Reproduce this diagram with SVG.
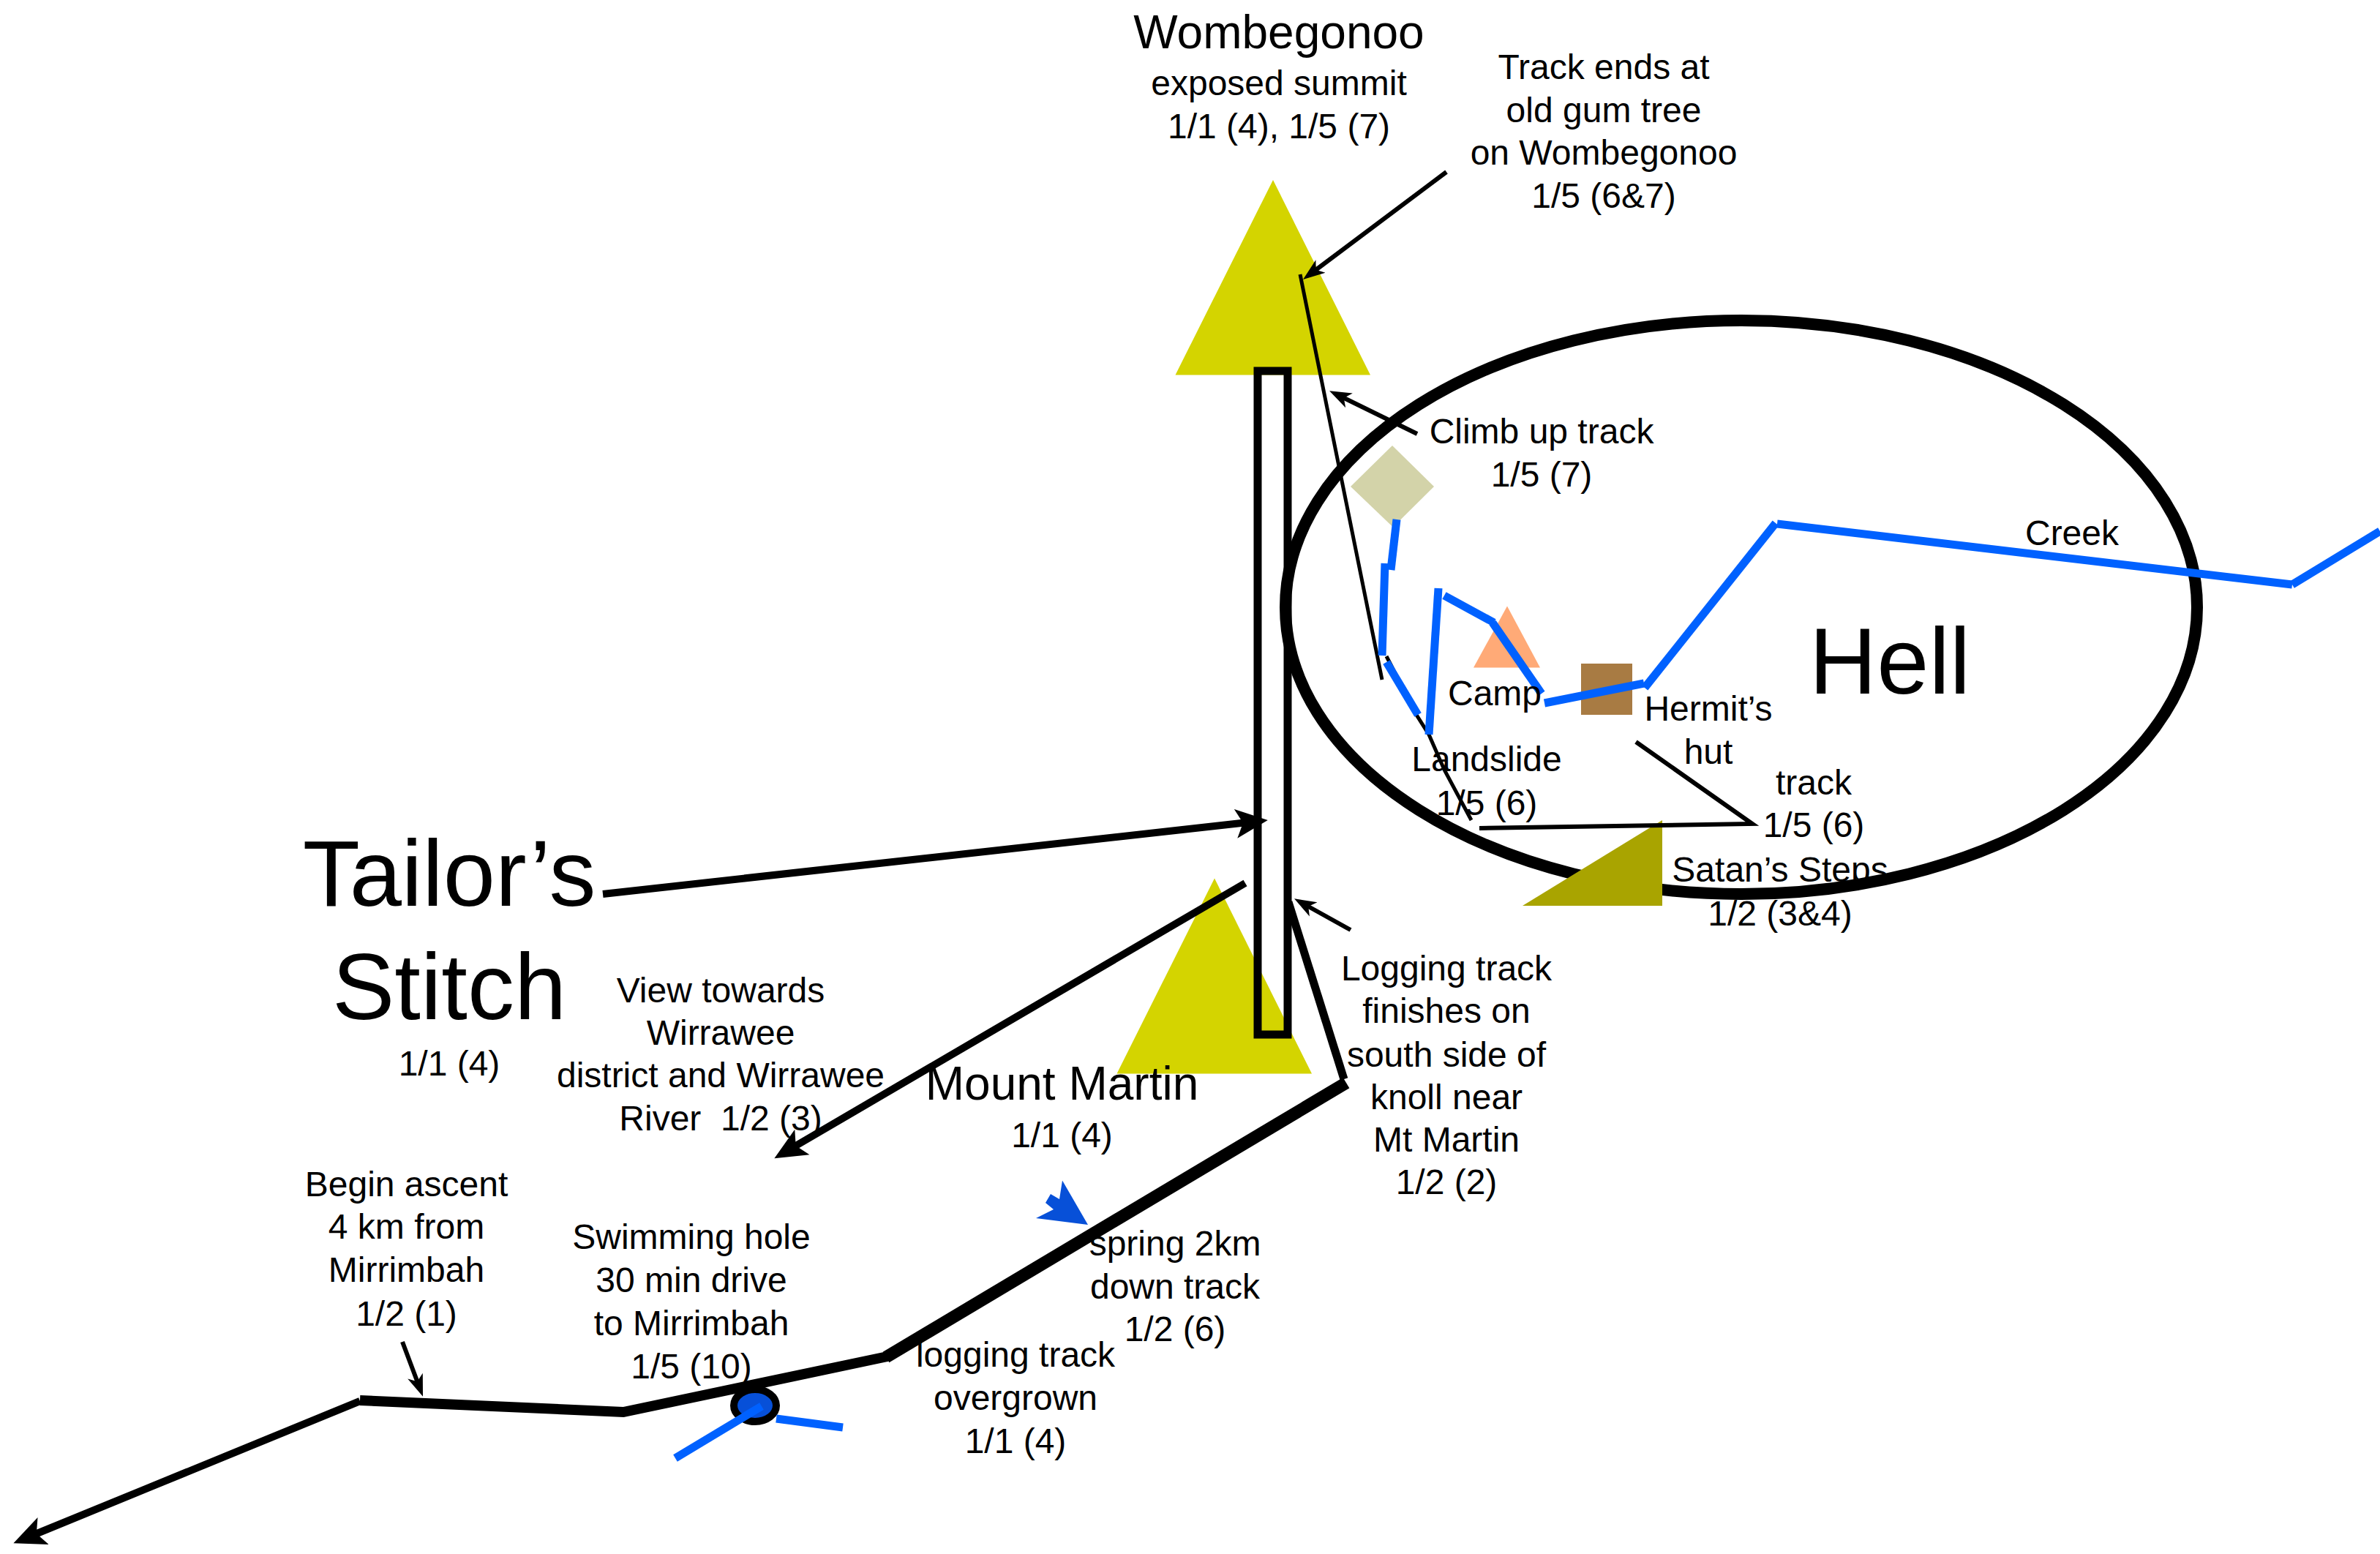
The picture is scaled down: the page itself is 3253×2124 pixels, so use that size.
<svg xmlns="http://www.w3.org/2000/svg" width="3253" height="2124" viewBox="0 0 3253 2124">
<style>
text{font-family:"Liberation Sans",Arial,sans-serif;font-size:48px;fill:#000;text-anchor:middle;white-space:pre}
.m{font-size:64px}
.l{font-size:128px}
.blk{fill:none;stroke:#000;stroke-linecap:butt;stroke-linejoin:miter}
.blu{fill:none;stroke:#0061ff;stroke-width:11}
.th{stroke-width:5}
.md{stroke-width:6}
</style>
<defs>
<marker id="s" markerUnits="userSpaceOnUse" markerWidth="32" markerHeight="24" refX="10" refY="12" orient="auto" viewBox="0 0 32 24"><path d="M0,1 L30,12 L0,23 L8,12 Z" fill="#000"/></marker>
<marker id="b" markerUnits="userSpaceOnUse" markerWidth="46" markerHeight="42" refX="12" refY="21" orient="auto" viewBox="0 0 46 42"><path d="M0,1 L44,21 L0,41 L10,21 Z" fill="#000"/></marker>
</defs>
<rect width="3253" height="2124" fill="#fff"/>
<g id="wombegonoo"><polygon points="1740,246 1873,512.5 1606.5,512.5" fill="#d4d400"/>
<text x="1748" y="66" class="m">Wombegonoo</text><text x="1748" y="130">exposed summit</text><text x="1748" y="189">1/1 (4), 1/5 (7)</text></g>
<g id="mount-martin"><polygon points="1660,1200.6 1793,1467.6 1526.5,1467.6" fill="#d4d400"/>
<text x="1451.5" y="1503" class="m">Mount Martin</text><text x="1451.5" y="1568">1/1 (4)</text></g>
<g id="hell"><ellipse cx="2380" cy="830" rx="623" ry="392" fill="none" stroke="#000" stroke-width="16"/><text x="2583" y="948" class="l">Hell</text></g>
<g id="tailors-stitch"><rect x="1719" y="507" width="41" height="907" fill="none" stroke="#000" stroke-width="11"/>
<text x="614" y="1238" class="l">Tailor’s</text><text x="614" y="1393" class="l">Stitch</text><text x="614" y="1470">1/1 (4)</text></g>
<g id="climb-diamond"><polygon points="1903,609 1960,665 1904,720.5 1846,665" fill="#d3d3a9"/></g>
<g id="camp"><polygon points="2060,828.5 2105,912.5 2014,912.5" fill="#ffaa77"/></g>
<g id="hermits-hut"><rect x="2161" y="907" width="70" height="70" fill="#a87b43"/></g>
<g id="satans-steps"><polygon points="2272,1121 2272,1238 2081,1238" fill="#a9a400"/><text x="2433" y="1205">Satan’s Steps</text><text x="2433" y="1265">1/2 (3&amp;4)</text></g>
<g id="connectors">
<path class="blk th" d="M1777,375 L1889,929"/>
<path class="blk th" d="M1895,897 L1936,977 L1953,1004 L1974,1052 L2011,1121"/>
<path class="blk md" d="M2236,1014 L2395,1126 L2022,1132"/>
<path class="blk md" marker-end="url(#s)" d="M1977,235 L1797,370"/>
<path class="blk md" marker-end="url(#s)" d="M1937,593 L1835,543"/>
<path class="blk md" marker-end="url(#s)" d="M1846,1271 L1786.5,1238"/>
<path class="blk md" marker-end="url(#s)" d="M550,1834 L571,1890"/>
<path class="blk" stroke-width="10" marker-end="url(#b)" d="M824,1222 L1701,1124.5"/>
<path class="blk" stroke-width="10" marker-end="url(#b)" d="M1702,1207 L1086,1567"/>
<path class="blk" stroke-width="10" marker-end="url(#b)" d="M492,1915 L48,2097"/>
<path class="blk" stroke-width="11" d="M1761,1233 L1837,1475"/>
<path class="blk" stroke-width="17" d="M1840,1480 L1211,1855"/>
<path class="blk" stroke-width="14" d="M1213,1854 L852,1930 L492,1914"/>
</g>
<g id="creek-lines">
<path class="blu" d="M1909,710 L1901,779"/><path class="blu" d="M1893,770 L1889,896"/><path class="blu" d="M1895,905 L1938,977"/>
<path class="blu" d="M1966,804 L1953,1004"/><path class="blu" d="M1974,814 L2042,851"/><path class="blu" d="M2040,851 L2107,948"/>
<path class="blu" d="M2111,961 L2247,934"/><path class="blu" d="M2248,940 L2427,715"/><path class="blu" d="M2429,716 L3133,799"/><path class="blu" d="M3133,799 L3253,726"/>
</g>
<g id="swimming-hole"><ellipse cx="1032" cy="1921" rx="29" ry="22" fill="#0750d8" stroke="#000" stroke-width="10"/>
<path class="blu" d="M1041,1922 L923,1993"/><path class="blu" d="M1061,1939 L1152,1951"/>
<text x="945" y="1707">Swimming hole</text><text x="945" y="1766">30 min drive</text><text x="945" y="1825">to Mirrimbah</text><text x="945" y="1884">1/5 (10)</text></g>
<g id="spring"><polygon points="1452,1613.5 1487,1674 1416,1665 1440,1653 1429,1644 1436,1632 1448,1639" fill="#0750d8"/>
<text x="1606" y="1716">spring 2km</text><text x="1606" y="1775">down track</text><text x="1606" y="1833">1/2 (6)</text></g>
<g id="labels">
<text x="2192" y="108">Track ends at</text><text x="2192" y="167">old gum tree</text><text x="2192" y="225">on Wombegonoo</text><text x="2192" y="284">1/5 (6&amp;7)</text>
<text x="2107" y="606">Climb up track</text><text x="2107" y="665">1/5 (7)</text>
<text x="2832" y="745">Creek</text>
<text x="2043" y="964">Camp</text>
<text x="2335" y="985">Hermit’s</text><text x="2335" y="1044">hut</text>
<text x="2032" y="1054">Landslide</text><text x="2032" y="1114">1/5 (6)</text>
<text x="2479" y="1086">track</text><text x="2479" y="1144">1/5 (6)</text>
<text x="1977" y="1340">Logging track</text><text x="1977" y="1398">finishes on</text><text x="1977" y="1458">south side of</text><text x="1977" y="1516">knoll near</text><text x="1977" y="1574">Mt Martin</text><text x="1977" y="1632">1/2 (2)</text>
<text x="1388" y="1868">logging track</text><text x="1388" y="1927">overgrown</text><text x="1388" y="1986">1/1 (4)</text>
<text x="555.5" y="1635">Begin ascent</text><text x="555.5" y="1693">4 km from</text><text x="555.5" y="1752">Mirrimbah</text><text x="555.5" y="1812">1/2 (1)</text>
<text x="985" y="1370">View towards</text><text x="985" y="1428">Wirrawee</text><text x="985" y="1486">district and Wirrawee</text><text x="985" y="1545">River  1/2 (3)</text>
</g>
</svg>
